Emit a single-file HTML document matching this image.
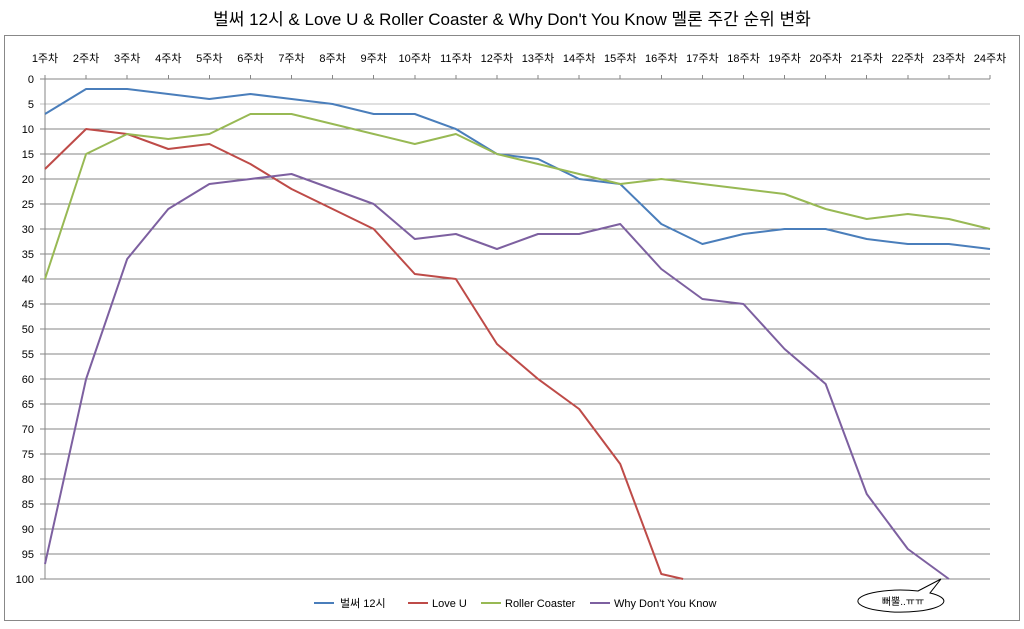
<!DOCTYPE html>
<html><head><meta charset="utf-8"><style>
body{margin:0;background:#fff;width:1024px;height:629px;overflow:hidden}
svg{display:block;font-family:"Liberation Sans","Noto Sans CJK KR","NanumGothic",sans-serif}
</style></head><body>
<svg width="1024" height="629" xmlns="http://www.w3.org/2000/svg">
<text x="512" y="25" font-size="17" text-anchor="middle" fill="#000">벌써 12시 &amp; Love U &amp; Roller Coaster &amp; Why Don't You Know 멜론 주간 순위 변화</text>
<rect x="4.5" y="35.5" width="1015" height="585" fill="none" stroke="#888" stroke-width="1"/>
<g stroke="#868686" stroke-width="1" shape-rendering="crispEdges">
<g transform="translate(0,79)">
<line x1="40" x2="990" y1="25" y2="25" stroke="#c0c0c0"/>
<line x1="40" x2="990" y1="50" y2="50"/><line x1="40" x2="990" y1="75" y2="75"/><line x1="40" x2="990" y1="100" y2="100"/>
<line x1="40" x2="990" y1="125" y2="125"/><line x1="40" x2="990" y1="150" y2="150"/><line x1="40" x2="990" y1="175" y2="175"/>
<line x1="40" x2="990" y1="200" y2="200"/><line x1="40" x2="990" y1="225" y2="225"/><line x1="40" x2="990" y1="250" y2="250"/>
<line x1="40" x2="990" y1="275" y2="275"/><line x1="40" x2="990" y1="300" y2="300"/><line x1="40" x2="990" y1="325" y2="325"/>
<line x1="40" x2="990" y1="350" y2="350"/><line x1="40" x2="990" y1="375" y2="375"/><line x1="40" x2="990" y1="400" y2="400"/>
<line x1="40" x2="990" y1="425" y2="425"/><line x1="40" x2="990" y1="450" y2="450"/><line x1="40" x2="990" y1="475" y2="475"/>
<line x1="40" x2="990" y1="500" y2="500"/>
<line x1="40" x2="45" y1="0" y2="0"/>
</g>
<line x1="45" x2="45" y1="79" y2="579"/>
<line x1="45" x2="990" y1="79" y2="79"/>
<g transform="translate(0,75)">
<line x1="45" x2="45" y1="0" y2="4"/><line x1="86.1" x2="86.1" y1="0" y2="4"/><line x1="127.2" x2="127.2" y1="0" y2="4"/><line x1="168.3" x2="168.3" y1="0" y2="4"/>
<line x1="209.3" x2="209.3" y1="0" y2="4"/><line x1="250.4" x2="250.4" y1="0" y2="4"/><line x1="291.5" x2="291.5" y1="0" y2="4"/><line x1="332.6" x2="332.6" y1="0" y2="4"/>
<line x1="373.7" x2="373.7" y1="0" y2="4"/><line x1="414.8" x2="414.8" y1="0" y2="4"/><line x1="455.9" x2="455.9" y1="0" y2="4"/><line x1="496.9" x2="496.9" y1="0" y2="4"/>
<line x1="538" x2="538" y1="0" y2="4"/><line x1="579.1" x2="579.1" y1="0" y2="4"/><line x1="620.2" x2="620.2" y1="0" y2="4"/><line x1="661.3" x2="661.3" y1="0" y2="4"/>
<line x1="702.4" x2="702.4" y1="0" y2="4"/><line x1="743.5" x2="743.5" y1="0" y2="4"/><line x1="784.6" x2="784.6" y1="0" y2="4"/><line x1="825.7" x2="825.7" y1="0" y2="4"/>
<line x1="866.7" x2="866.7" y1="0" y2="4"/><line x1="907.8" x2="907.8" y1="0" y2="4"/><line x1="948.9" x2="948.9" y1="0" y2="4"/><line x1="990" x2="990" y1="0" y2="4"/>
</g>
</g>
<g font-size="11" fill="#000" text-anchor="end">
<text x="34" y="83">0</text><text x="34" y="108">5</text><text x="34" y="133">10</text><text x="34" y="158">15</text>
<text x="34" y="183">20</text><text x="34" y="208">25</text><text x="34" y="233">30</text><text x="34" y="258">35</text>
<text x="34" y="283">40</text><text x="34" y="308">45</text><text x="34" y="333">50</text><text x="34" y="358">55</text>
<text x="34" y="383">60</text><text x="34" y="408">65</text><text x="34" y="433">70</text><text x="34" y="458">75</text>
<text x="34" y="483">80</text><text x="34" y="508">85</text><text x="34" y="533">90</text><text x="34" y="558">95</text>
<text x="34" y="583">100</text>
</g>
<g font-size="11" fill="#000" text-anchor="middle">
<text x="45" y="62">1주차</text><text x="86.1" y="62">2주차</text><text x="127.2" y="62">3주차</text><text x="168.3" y="62">4주차</text>
<text x="209.3" y="62">5주차</text><text x="250.4" y="62">6주차</text><text x="291.5" y="62">7주차</text><text x="332.6" y="62">8주차</text>
<text x="373.7" y="62">9주차</text><text x="414.8" y="62">10주차</text><text x="455.9" y="62">11주차</text><text x="496.9" y="62">12주차</text>
<text x="538" y="62">13주차</text><text x="579.1" y="62">14주차</text><text x="620.2" y="62">15주차</text><text x="661.3" y="62">16주차</text>
<text x="702.4" y="62">17주차</text><text x="743.5" y="62">18주차</text><text x="784.6" y="62">19주차</text><text x="825.7" y="62">20주차</text>
<text x="866.7" y="62">21주차</text><text x="907.8" y="62">22주차</text><text x="948.9" y="62">23주차</text><text x="990" y="62">24주차</text>
</g>
<g transform="translate(45,79) scale(41.087,5)" fill="none" stroke-width="2" stroke-linejoin="round">
<polyline vector-effect="non-scaling-stroke" stroke="#4a7ebb" points="0,7 1,2 2,2 3,3 4,4 5,3 6,4 7,5 8,7 9,7 10,10 11,15 12,16 13,20 14,21 15,29 16,33 17,31 18,30 19,30 20,32 21,33 22,33 23,34"/>
<polyline vector-effect="non-scaling-stroke" stroke="#be4b48" points="0,18 1,10 2,11 3,14 4,13 5,17 6,22 7,26 8,30 9,39 10,40 11,53 12,60 13,66 14,77 15,99 15.53,100"/>
<polyline vector-effect="non-scaling-stroke" stroke="#98b954" points="0,40 1,15 2,11 3,12 4,11 5,7 6,7 7,9 8,11 9,13 10,11 11,15 12,17 13,19 14,21 15,20 16,21 17,22 18,23 19,26 20,28 21,27 22,28 23,30"/>
<polyline vector-effect="non-scaling-stroke" stroke="#7d60a0" points="0,97 1,60 2,36 3,26 4,21 5,20 6,19 7,22 8,25 9,32 10,31 11,34 12,31 13,31 14,29 15,38 16,44 17,45 18,54 19,61 20,83 21,94 22,100"/>
</g>
<g font-size="11" fill="#000">
<line x1="314" x2="334" y1="603" y2="603" stroke="#4a7ebb" stroke-width="2"/><text x="340" y="607">벌써 12시</text>
<line x1="408" x2="428" y1="603" y2="603" stroke="#be4b48" stroke-width="2"/><text x="432" y="607">Love U</text>
<line x1="481" x2="501" y1="603" y2="603" stroke="#98b954" stroke-width="2"/><text x="505" y="607">Roller Coaster</text>
<line x1="590" x2="610" y1="603" y2="603" stroke="#7d60a0" stroke-width="2"/><text x="614" y="607">Why Don't You Know</text>
</g>
<path d="M918,591 L941,579 L930,593 A43,11 0 1 1 918,591 Z" fill="#fff" stroke="#000" stroke-width="1"/>
<text x="903" y="605" font-size="10" text-anchor="middle" fill="#000">뻐뿔..ㅠㅠ</text>
</svg>
</body></html>
